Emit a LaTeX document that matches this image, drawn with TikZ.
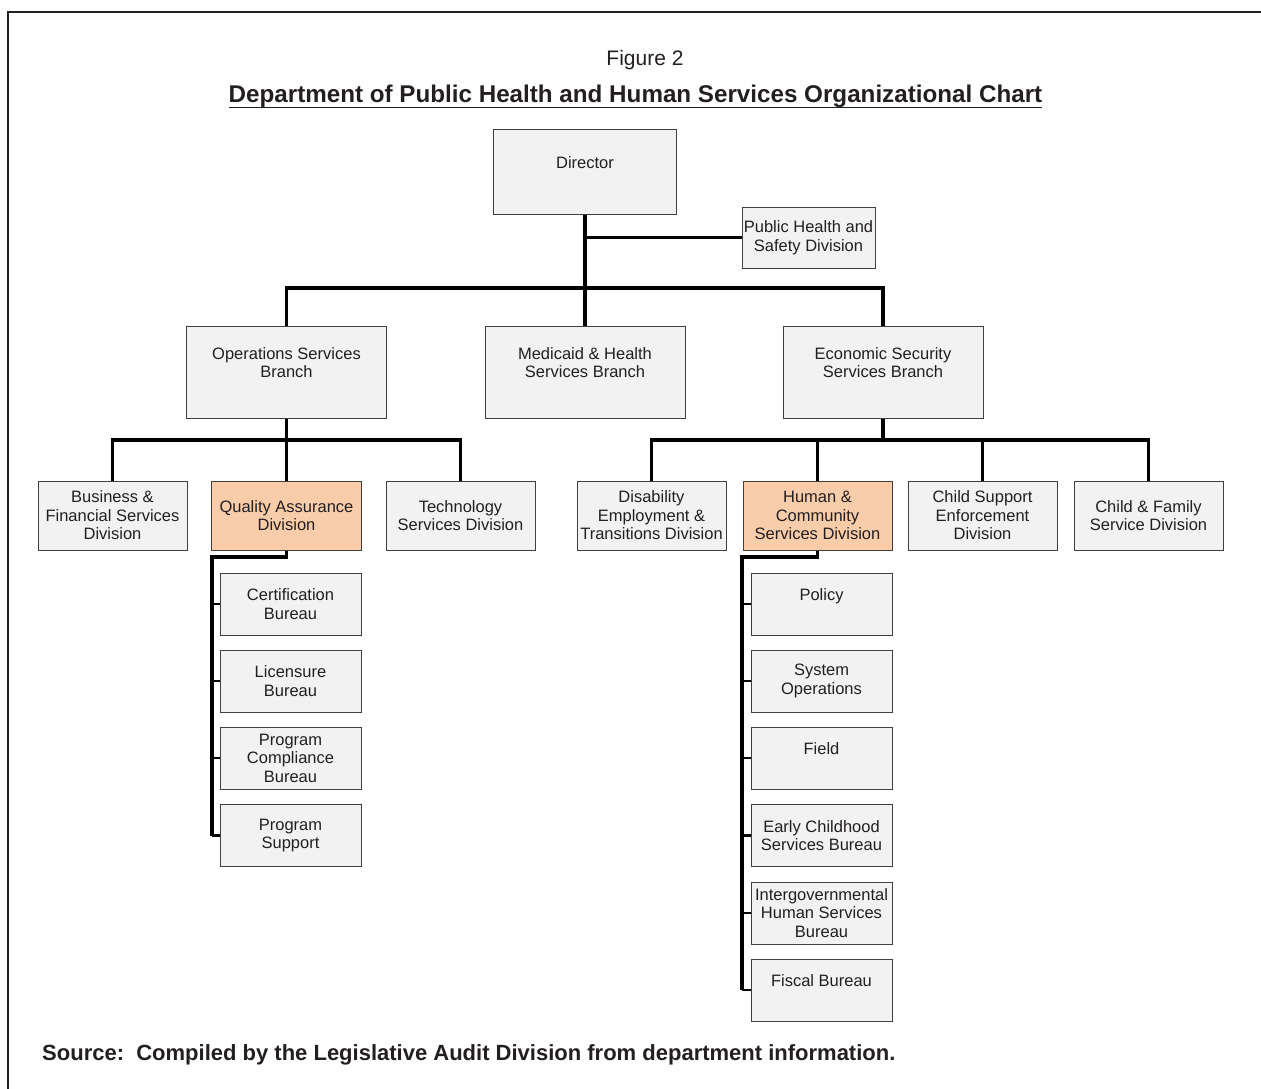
\documentclass[tikz,border=0pt]{standalone}
\usepackage{fontspec}
\setmainfont{Liberation Sans}
\definecolor{boxgray}{RGB}{242,242,242}
\definecolor{boxline}{RGB}{64,64,64}
\definecolor{peach}{RGB}{249,204,170}
\definecolor{ink}{RGB}{35,31,32}

\begin{document}
\begin{tikzpicture}[x=1pt, y=-1pt, line join=miter,
    orgbox/.style={draw=boxline, line width=1pt, fill=boxgray, inner sep=0pt,
        align=center, text=ink, font=\fontsize{16.5}{18.5}\selectfont},
    branch/.style={orgbox, minimum width=200pt, minimum height=92pt},
    division/.style={orgbox, minimum width=149pt, minimum height=69pt},
    bureau/.style={orgbox, minimum width=141pt, minimum height=62pt},
    focus/.style={fill=peach},
    bar/.style={line width=3.5pt, black},
    tick/.style={line width=2.2pt, black}]
    \useasboundingbox (0,0) rectangle (1261,1089);

    % Frame
    \draw[line width=2.5pt, ink] (8,1089) -- (8,12) -- (1261,12);

    % Heading
    \node[font=\fontsize{21}{25}\selectfont, text=ink] (fig) at (645,60) {Figure 2};
    \node[font=\fontsize{24.2}{28}\selectfont\bfseries, text=ink, inner sep=0pt, anchor=base] (title)
        at (635.5,103) {Department of Public Health and Human Services Organizational Chart};
    \draw[line width=1.8pt, ink] ([yshift=-4.5pt]title.base west) -- ([yshift=-4.5pt]title.base east);

    % Director and staff
    \node[orgbox, minimum width=183pt, minimum height=84pt] (dir) at (585,172) {Director\\\mbox{}};
    \node[orgbox, minimum width=133pt, minimum height=61pt] (phs) at (808.5,237.5) {Public Health and\\Safety Division};

    % Branches
    \node[branch] (ops) at (286.5,372) {Operations Services\\Branch\\\mbox{}};
    \node[branch] (med) at (585,372) {Medicaid \& Health\\Services Branch\\\mbox{}};
    \node[branch] (eco) at (883,372) {Economic Security\\Services Branch\\\mbox{}};

    % Divisions
    \node[division] (bfs) at (112.5,515.5) {Business \&\\Financial Services\\Division};
    \node[division, focus, minimum width=150pt] (qad) at (286.5,515.5) {Quality Assurance\\Division};
    \node[division] (tsd) at (460.5,515.5) {Technology\\Services Division};
    \node[division] (det) at (651.5,515.5) {Disability\\Employment \&\\Transitions Division};
    \node[division, focus] (hcs) at (817.5,515.5) {Human \&\\Community\\Services Division};
    \node[division] (cse) at (982.5,515.5) {Child Support\\Enforcement\\Division};
    \node[division] (cfs) at (1148.5,515.5) {Child \& Family\\Service Division};

    % Bureaus under Quality Assurance
    \node[bureau] (qa1) at (290.5,604) {Certification\\Bureau};
    \node[bureau] (qa2) at (290.5,681) {Licensure\\Bureau};
    \node[bureau] (qa3) at (290.5,758) {Program\\Compliance\\Bureau};
    \node[bureau] (qa4) at (290.5,835.5) {Program\\Support};

    % Bureaus under Human & Community Services
    \node[bureau] (hc1) at (821.5,604) {Policy\\\mbox{}};
    \node[bureau] (hc2) at (821.5,681) {System\\Operations};
    \node[bureau] (hc3) at (821.5,758) {Field\\\mbox{}};
    \node[bureau] (hc4) at (821.5,835.5) {Early Childhood\\Services Bureau};
    \node[bureau] (hc5) at (821.5,913) {Intergovernmental\\Human Services\\Bureau};
    \node[bureau] (hc6) at (821.5,990) {Fiscal Bureau\\\mbox{}};

    % Connections Director to branches
    \coordinate (topbus) at (585,288);
    \draw[bar] (dir.south) -- (med.north);
    \draw[bar] (dir.south |- phs.west) -- (phs.west);
    \draw[bar] (ops.north) |- (topbus) -| (eco.north);

    % Connections branches to divisions
    \coordinate (opsbus) at (286.5,440);
    \draw[bar] (ops.south) -- (qad.north);
    \draw[bar] (bfs.north) |- (opsbus) -| (tsd.north);
    \coordinate (ecobus) at (883,440);
    \draw[bar] (eco.south) -- (ecobus);
    \draw[bar] (det.north) |- (ecobus) -| (cfs.north);
    \foreach \d in {hcs, cse}
        \draw[bar] (\d.north) -- (\d.north |- ecobus);

    % Connections divisions to bureaus
    \coordinate (qaspine) at (212,557);
    \draw[bar] (qad.south) |- (qaspine) -- (qaspine |- qa4.west);
    \foreach \i in {1,...,4}
        \draw[tick] (qaspine |- qa\i.west) -- (qa\i.west);
    \coordinate (hcspine) at (742,557);
    \draw[bar] (hcs.south) |- (hcspine) -- (hcspine |- hc6.west);
    \foreach \i in {1,...,6}
        \draw[tick] (hcspine |- hc\i.west) -- (hc\i.west);

    % Source
    \node[font=\fontsize{22}{26}\selectfont\bfseries, text=ink, anchor=base west, inner sep=0pt] (src)
        at (42,1060) {Source:\ \ Compiled by the Legislative Audit Division from department information.};
\end{tikzpicture}
\end{document}
